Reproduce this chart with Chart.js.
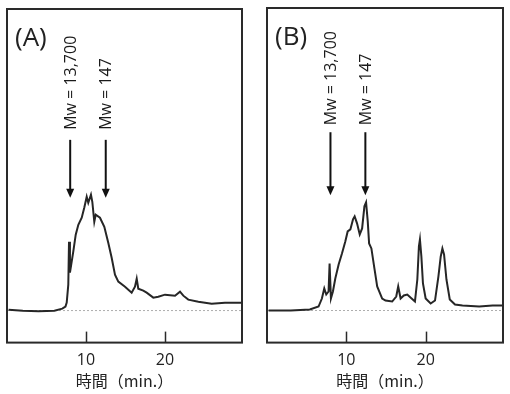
<!DOCTYPE html>
<html><head><meta charset="utf-8">
<script src="https://cdn.jsdelivr.net/npm/chart.js@4.4.1/dist/chart.umd.min.js"></script>
<style>
html,body{margin:0;padding:0;background:#fff;}
#wrap{position:relative;width:510px;height:394px;}
.c{position:absolute;top:0;width:255px;height:394px;}
</style></head>
<body><div id="wrap">
<div class="c" style="left:0"><canvas id="cA"></canvas></div>
<div class="c" style="left:255px"><canvas id="cB"></canvas></div>
</div>
<script>
// ---- data ----
const timeA = [0.2,2,4,6,7.0,7.4,7.56,7.76,7.85,7.97,8.19,8.39,8.70,9.03,9.46,9.78,10.09,10.29,10.63,10.80,11.05,11.23,11.77,12.32,12.82,13.25,13.67,14.09,14.94,15.78,16.2,16.42,16.62,17.25,17.68,18.52,19.15,20.0,21.27,21.90,22.32,22.95,24.22,25.91,27.59,29.7];
const signalA = [1,0,-0.5,0,2,4,8,26,69,38,49,59,76,86,93,103,114,108,116,109,89,96,93,84,68,53,36,29,24,18,24,32,22,20,18,13,14,16,15,19,15,11,9,7,8,8];
const timeB = [0.2,3,5.4,6.5,6.92,7.22,7.47,7.76,7.89,8.06,8.31,8.61,9.03,9.45,9.87,10.17,10.51,10.84,11.05,11.35,11.69,11.99,12.28,12.49,12.70,12.87,13.16,13.54,13.89,14.52,14.94,15.78,16.29,16.54,16.84,17.25,17.68,18.23,18.65,18.95,19.15,19.28,19.46,19.66,20.0,20.63,21.18,21.61,21.90,22.11,22.32,22.62,23.04,23.7,24.64,26.75,28.44,29.7];
const signalB = [0,0,1,4,12,22,16,19,47,12,19,32,46,57,69,79,81,91,94,87,76,82,104,108,89,67,62,42,24,12,10,9,14,24,12,15,16,12,9,31,64,71,54,27,12,7,10,34,54,62,56,31,11,6,5,4,5,5];
const tickValues = [10, 20];
const markerLabels = ['Mw = 13,700', 'Mw = 147'];
const markerTimesA = [8.0, 12.5];
const markerTimesB = [8.0, 12.4];
const panelLabels = ['(A)', '(B)'];
const xTitle = '時間（min.）';
const X_MIN = 0, X_MAX = 29.75, Y_MIN = -32, Y_MAX = 302;

const LATIN = "'Open Sans','Noto Sans CJK JP',sans-serif";
const CJK = "'Noto Sans CJK JP',sans-serif";

function decorPlugin(panelLabel, markerTimes, arrowTop, arrowTip, textBottom) {
  return {
    id: 'decor',
    afterDraw(chart) {
      const ctx = chart.ctx, a = chart.chartArea;
      const xs = chart.scales.x, ys = chart.scales.y;
      ctx.save();
      // frame
      ctx.strokeStyle = '#2a2a2a'; ctx.lineWidth = 2;
      ctx.strokeRect(a.left, a.top, a.right - a.left, a.bottom - a.top);
      // inward ticks
      ctx.lineWidth = 1.5;
      tickValues.forEach(v => {
        const px = Math.round(xs.getPixelForValue(v)) + 0.5;
        ctx.beginPath(); ctx.moveTo(px, a.bottom); ctx.lineTo(px, a.bottom - 11); ctx.stroke();
      });
      // panel label
      ctx.fillStyle = '#222';
      ctx.font = "26px " + LATIN;
      ctx.textAlign = 'left'; ctx.textBaseline = 'middle';
      ctx.fillText(panelLabel, a.left + 8, a.top + 30);
      // arrows & labels
      markerTimes.forEach((t, i) => {
        const px = xs.getPixelForValue(t);
        const y0 = ys.getPixelForValue(arrowTop), y1 = ys.getPixelForValue(arrowTip);
        ctx.strokeStyle = '#111'; ctx.fillStyle = '#111'; ctx.lineWidth = 2;
        ctx.beginPath(); ctx.moveTo(px, y0); ctx.lineTo(px, y1 - 7); ctx.stroke();
        ctx.beginPath(); ctx.moveTo(px - 4, y1 - 9); ctx.lineTo(px + 4, y1 - 9); ctx.lineTo(px, y1); ctx.closePath(); ctx.fill();
        ctx.save();
        ctx.translate(px, ys.getPixelForValue(textBottom));
        ctx.rotate(-Math.PI / 2);
        ctx.font = "16px " + LATIN; ctx.fillStyle = '#1a1a1a';
        ctx.textAlign = 'left'; ctx.textBaseline = 'middle';
        ctx.fillText(markerLabels[i], 0, 1);
        ctx.restore();
      });
      ctx.restore();
    }
  };
}

function makeChart(id, times, signal, panelLabel, markerTimes, pad, arrowTop, arrowTip, textBottom) {
  const pts = times.map((t, i) => ({x: t, y: signal[i]}));
  return new Chart(document.getElementById(id), {
    type: 'line',
    data: { datasets: [
      { data: pts, borderColor: '#262626', borderWidth: 2, pointRadius: 0, tension: 0, fill: false },
      { data: [{x: X_MIN, y: 0}, {x: X_MAX, y: 0}], borderColor: '#9a9a9a', borderWidth: 0.8, borderDash: [2, 2], pointRadius: 0 }
    ]},
    options: {
      responsive: true, maintainAspectRatio: false, animation: false,
      layout: { padding: pad },
      plugins: { legend: { display: false }, tooltip: { enabled: false } },
      scales: {
        x: {
          type: 'linear', min: X_MIN, max: X_MAX,
          afterBuildTicks: s => { s.ticks = tickValues.map(v => ({value: v})); },
          grid: { display: false, drawTicks: false },
          border: { display: false },
          ticks: { color: '#222', font: { size: 16, family: LATIN }, padding: 8, maxRotation: 0 },
          title: { display: true, text: xTitle, color: '#222', font: { size: 16, family: CJK }, padding: { top: -6, bottom: 0 } }
        },
        y: { type: 'linear', min: Y_MIN, max: Y_MAX, display: false }
      }
    },
    plugins: [decorPlugin(panelLabel, markerTimes, arrowTop, arrowTip, textBottom)]
  });
}

makeChart('cA', timeA, signalA, panelLabels[0], markerTimesA, {left: 7, right: 13, top: 9, bottom: 3}, 171, 113, 181);
makeChart('cB', timeB, signalB, panelLabels[1], markerTimesB, {left: 12, right: 7, top: 8, bottom: 3}, 178, 115, 185);
</script>
</body></html>
